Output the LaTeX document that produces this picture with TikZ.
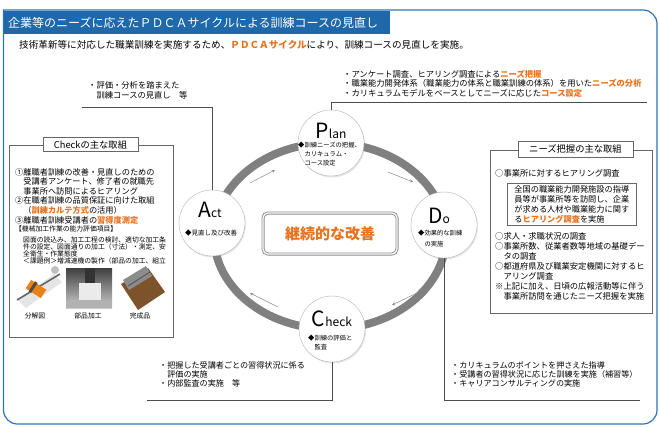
\documentclass[tikz,border=0pt]{standalone}
\usepackage{fontspec}
\setmainfont{Noto Sans CJK JP}
\usetikzlibrary{positioning,shadows}
\definecolor{orng}{RGB}{232,114,30}
\definecolor{frameblue}{RGB}{46,117,182}
\definecolor{barblue}{RGB}{31,104,170}
\newcommand{\orn}[1]{\textcolor{orng}{\bfseries#1}}

\begin{document}
\begin{tikzpicture}[x=1pt,y=-1pt,
  txt/.style={anchor=north west,inner sep=0,align=left,font=\fontsize{8.3}{10}\selectfont},
  small/.style={txt,font=\fontsize{6.8}{7.1}\selectfont},
  phase/.style={circle,draw=black!30,fill=white,minimum size=66,drop shadow={opacity=0.2,shadow xshift=1pt,shadow yshift=-1.5pt}},
  ln/.style={draw=black!70,line width=0.6},
  arr/.style={draw=black!45,line width=0.5,-stealth},
  box/.style={draw=black!60,line width=0.8},
  tag/.style={draw=black!60,fill=white,line width=0.8,inner sep=0,minimum height=14.5,font=\fontsize{9.3}{9.3}\selectfont},
  fig/.style={inner sep=0,font=\fontsize{6.8}{6.8}\selectfont}]
\useasboundingbox (0,0) rectangle (660,426);

\draw[frameblue,line width=1.2] (3.5,10) -- (300,10) [rounded corners=14] -- (657,10) -- (657,424) -- (3.5,424) -- (3.5,300) [sharp corners] -- cycle;
\fill[barblue] (3.5,11) rectangle (390,34);
\node[anchor=west,inner sep=0,text=white,font=\fontsize{12}{12}\selectfont] (title) at (8,23) {企業等のニーズに応えたＰＤＣＡサイクルによる訓練コースの見直し};
\node[anchor=west,inner sep=0,font=\fontsize{9.6}{9.6}\selectfont] (lead) at (19,44.5) {技術革新等に対応した職業訓練を実施するため、\orn{ＰＤＣＡサイクル}により、訓練コースの見直しを実施。};

\draw[black!50,line width=8] (330,236) ellipse [x radius=116,y radius=93];

\coordinate (a1) at (250,183); \coordinate (a2) at (275,170);
\coordinate (a3) at (388,172); \coordinate (a4) at (413,182);
\coordinate (a5) at (417,293); \coordinate (a6) at (392,305);
\coordinate (a7) at (278,307); \coordinate (a8) at (250,293);
\draw[arr] (a1) -- (a2);
\draw[arr] (a3) -- (a4);
\draw[arr] (a5) -- (a6);
\draw[arr] (a7) -- (a8);

\node[draw=black!45,double=white,double distance=1.2,line width=0.9,rounded corners=5,fill=white,minimum width=134,minimum height=41,text=orng,font=\fontsize{15}{15}\selectfont\bfseries] (kaizen) at (330,233.5) {継続的な改善};

\node[phase] (plan) at (331,143) {};
\node[phase] (do) at (444,225) {};
\node[phase] (chk) at (332,329) {};
\node[phase] (act) at (212,223) {};

\node[anchor=base,inner sep=0] (plantitle) at (331,138) {{\fontsize{21}{21}\selectfont P}{\fontsize{12}{12}\selectfont lan}};
\node[txt,font=\fontsize{6.3}{9}\selectfont] (planitem) at (298,141.8) {◆訓練ニーズの把握、\\　カリキュラム・\\　コース設定};
\node[anchor=base,inner sep=0] (dotitle) at (439,223) {{\fontsize{21}{21}\selectfont D}{\fontsize{12}{12}\selectfont o}};
\node[txt,font=\fontsize{6.3}{11.5}\selectfont] (doitem) at (418,229.8) {◆効果的な訓練\\　の実施};
\node[anchor=base,inner sep=0] (chktitle) at (332,326) {{\fontsize{21}{21}\selectfont C}{\fontsize{12}{12}\selectfont heck}};
\node[txt,font=\fontsize{6.3}{9}\selectfont] (chkitem) at (308,334.8) {◆訓練の評価と\\　監査};
\node[anchor=base,inner sep=0] (acttitle) at (210,217) {{\fontsize{21}{21}\selectfont A}{\fontsize{12}{12}\selectfont ct}};
\node[anchor=west,inner sep=0,font=\fontsize{6.5}{6.5}\selectfont] (actitem) at (185,233) {◆見直し及び改善};

\coordinate (tl) at (82,107);
\coordinate (tr) at (647,102.5);
\coordinate (br) at (640,400);
\coordinate (bl) at (147,400);
\draw[ln] (act) |- (tl);
\draw[ln] (plan) |- (tr);
\draw[ln] (do) |- (br);
\draw[ln] (chk) |- (bl);

\node[txt,font=\fontsize{8.3}{9.5}\selectfont] (plantxt) at (343,69.9) {・アンケート調査、ヒアリング調査による\orn{ニーズ把握}\\・職業能力開発体系（職業能力の体系と職業訓練の体系）を用いた\orn{ニーズの分析}\\・カリキュラムモデルをベースとしてニーズに応じた\orn{コース設定}};
\node[txt] (acttxt) at (88,80.9) {・評価・分析を踏まえた\\　訓練コースの見直し　等};
\node[txt,font=\fontsize{8.1}{9}\selectfont] (chktxt) at (159,361.5) {・把握した受講者ごとの習得状況に係る\\　評価の実施\\・内部監査の実施　等};
\node[txt,font=\fontsize{8.1}{9}\selectfont] (dotxt) at (451,361.5) {・カリキュラムのポイントを押さえた指導\\・受講者の習得状況に応じた訓練を実施（補習等）\\・キャリアコンサルティングの実施};

\draw[box] (9,145) rectangle (173,337);
\node[tag,minimum width=95] (chkhead) at (90.5,144.5) {Checkの主な取組};
\node[txt,font=\fontsize{8.2}{9.6}\selectfont] (chklist) at (15,167.9) {①離職者訓練の改善・見直しのための\\　受講者アンケート、修了者の就職先\\　事業所へ訪問によるヒアリング\\②在職者訓練の品質保証に向けた取組\\　（\orn{訓練カルテ方式}の活用）\\③離職者訓練受講者の\orn{習得度測定}};
\node[small] (evalhead) at (15,225.6) {【機械加工作業の能力評価項目】};
\node[small] (evaltxt) at (23,236.6) {図面の読込み、加工工程の検討、適切な加工条\\件の設定、図面通りの加工（寸法）・測定、安\\全衛生・作業態度\\＜課題例＞増減速機の製作（部品の加工、組立};

\fill[black!10] (18,300) -- (54,274) -- (62,282) -- (26,308) -- cycle;
\draw[black!60,line width=1.6] (17,300) -- (60,274);
\fill[orange!70!brown,rotate around={-33:(36,289)}] (27,284) rectangle (45,294);
\fill[black!70,rotate around={-33:(36,289)}] (31,283) rectangle (34,295);
\fill[black!25] (55,270) circle (4);
\shade[top color=black!75,bottom color=black!20] (66,268) rectangle (112,308);
\fill[black!80] (85,268) rectangle (95,284);
\fill[black!8] (79,283) rectangle (101,300);
\fill[black!30] (66,302) rectangle (112,308);
\fill[brown!65!black] (121,284) -- (148,268) -- (165,292) -- (138,310) -- cycle;
\fill[black!45] (123,280) -- (146,266) -- (152,276) -- (129,290) -- cycle;
\draw[black!65,line width=1] (128,286) -- (150,272);
\node[fig] (fig1) at (35,316) {分解図};
\node[fig] (fig2) at (88,316) {部品加工};
\node[fig] (fig3) at (140,316) {完成品};

\draw[box] (490,150) rectangle (652,313);
\node[tag,minimum width=115,minimum height=16] (needhead) at (575.5,149) {ニーズ把握の主な取組};
\node[txt] (need1) at (495,169.1) {○事業所に対するヒアリング調査};
\node[draw=black!60,line width=0.6,anchor=north west,inner xsep=5.5,inner ysep=2,minimum width=129,align=left,font=\fontsize{8.2}{10}\selectfont] (need2) at (507,183) {全国の職業能力開発施設の指導\\員等が事業所等を訪問し、企業\\が求める人材や職業能力に関す\\る\orn{ヒアリング調査}を実施};
\node[txt] (need3) at (495,232.6) {○求人・求職状況の調査\\○事業所数、従業者数等地域の基礎デー\\　タの調査\\○都道府県及び職業安定機関に対するヒ\\　アリング調査\\※上記に加え、日頃の広報活動等に伴う\\　事業所訪問を通じたニーズ把握を実施};
\end{tikzpicture}
\end{document}
